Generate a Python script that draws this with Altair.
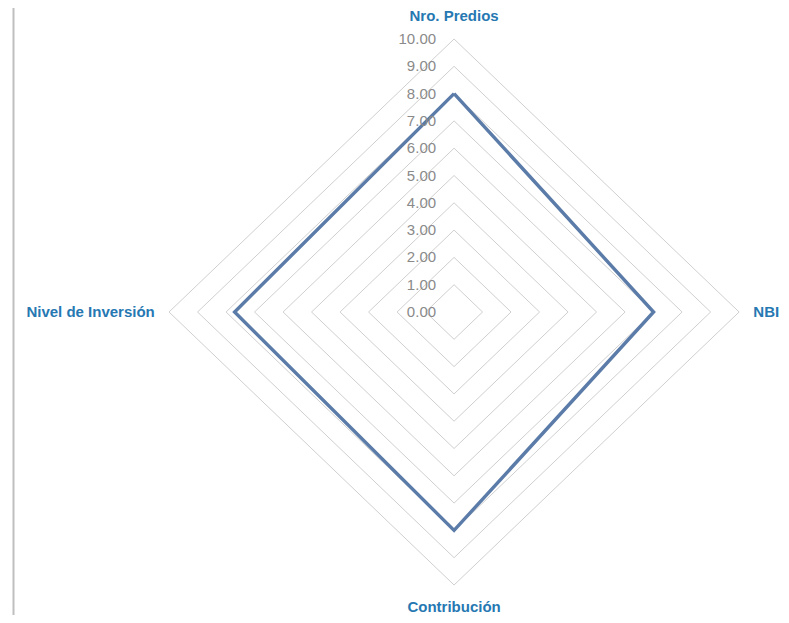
import altair as alt
import pandas as pd
import numpy as np

# ---- data ----
categories = ["Nro. Predios", "NBI", "Contribución", "Nivel de Inversión"]
values = [8.0, 7.0, 8.0, 7.7]
grid_levels = [1, 2, 3, 4, 5, 6, 7, 8, 9, 10]
tick_values = [0, 1, 2, 3, 4, 5, 6, 7, 8, 9, 10]
tick_labels = ["0.00", "1.00", "2.00", "3.00", "4.00", "5.00",
               "6.00", "7.00", "8.00", "9.00", "10.00"]

n = len(categories)
angles = [np.pi / 2 - i * 2 * np.pi / n for i in range(n)]

# grid polygons
grid_rows = []
for lv in grid_levels:
    for k in range(n + 1):
        a = angles[k % n]
        grid_rows.append({"level": lv, "ord": k,
                          "x": lv * np.cos(a), "y": lv * np.sin(a)})
grid_df = pd.DataFrame(grid_rows)

# series polygon
ser_rows = []
for k in range(n + 1):
    a = angles[k % n]
    v = values[k % n]
    ser_rows.append({"ord": k, "x": v * np.cos(a), "y": v * np.sin(a),
                     "cat": categories[k % n], "value": v})
ser_df = pd.DataFrame(ser_rows)

# tick labels along the vertical axis
tick_df = pd.DataFrame({"v": tick_values, "label": tick_labels})

# category labels
LABEL_R = 10.5
lab_df = pd.DataFrame({
    "cat": categories,
    "idx": list(range(n)),
    "x": [LABEL_R * np.cos(a) for a in angles],
    "y": [LABEL_R * np.sin(a) for a in angles],
})

W, H = 773, 607
xs = alt.Scale(domain=[-15.65, 11.47], nice=False, zero=False)
ys = alt.Scale(domain=[-(H - 304) / 27.3, 304 / 27.3], nice=False, zero=False)

grid = alt.Chart(grid_df).mark_line(color="#cfcfcf", strokeWidth=1).encode(
    x=alt.X("x:Q", scale=xs, axis=None),
    y=alt.Y("y:Q", scale=ys, axis=None),
    detail="level:N",
    order="ord:Q",
)

series = alt.Chart(ser_df).mark_line(color="#5b7ba8", strokeWidth=3.4,
                                     strokeJoin="miter").encode(
    x=alt.X("x:Q", scale=xs, axis=None),
    y=alt.Y("y:Q", scale=ys, axis=None),
    order="ord:Q",
)

ticks = alt.Chart(tick_df).mark_text(
    align="right", baseline="middle", dx=-18, fontSize=15,
    font="Liberation Sans", color="#8a8a8a"
).encode(
    x=alt.X("zero:Q", scale=xs, axis=None),
    y=alt.Y("v:Q", scale=ys, axis=None),
    text="label:N",
).transform_calculate(zero="0")

lab_common = dict(baseline="middle", fontSize=15, fontWeight="bold",
                  font="Liberation Sans", color="#2678b2")

lab_top = alt.Chart(lab_df).transform_filter("datum.idx == 0").mark_text(
    align="center", dy=-9, **lab_common).encode(
    x=alt.X("x:Q", scale=xs, axis=None), y=alt.Y("y:Q", scale=ys, axis=None),
    text="cat:N")
lab_bottom = alt.Chart(lab_df).transform_filter("datum.idx == 2").mark_text(
    align="center", dy=8, **lab_common).encode(
    x=alt.X("x:Q", scale=xs, axis=None), y=alt.Y("y:Q", scale=ys, axis=None),
    text="cat:N")
lab_right = alt.Chart(lab_df).transform_filter("datum.idx == 1").mark_text(
    align="left", **lab_common).encode(
    x=alt.X("x:Q", scale=xs, axis=None), y=alt.Y("y:Q", scale=ys, axis=None),
    text="cat:N")
lab_left = alt.Chart(lab_df).transform_filter("datum.idx == 3").mark_text(
    align="right", **lab_common).encode(
    x=alt.X("x:Q", scale=xs, axis=None), y=alt.Y("y:Q", scale=ys, axis=None),
    text="cat:N")

border = alt.Chart(pd.DataFrame({"a": [0]})).mark_rule(
    color="#bfbfbf", strokeWidth=2).encode(
    x=alt.value(5.5), y=alt.value(0), y2=alt.value(H))

chart = alt.layer(grid, series, ticks, lab_top, lab_bottom, lab_right,
                  lab_left, border).properties(
    width=W, height=H, padding=0,
    autosize=alt.AutoSizeParams(type="none"),
).configure_view(stroke=None)

chart.save("out.html", embed_options={"renderer": "svg", "actions": False})
